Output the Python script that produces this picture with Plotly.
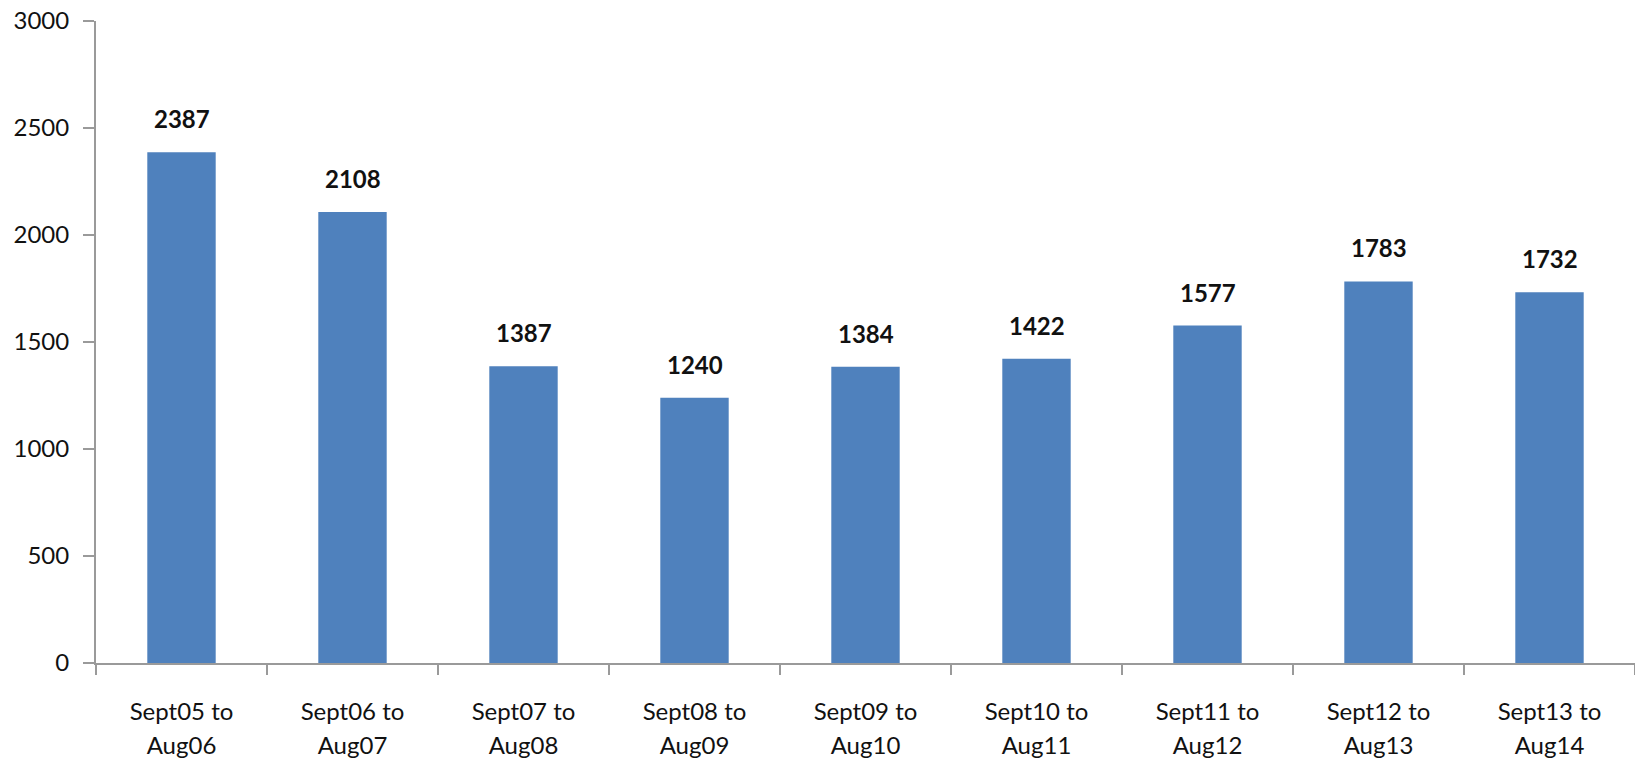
import plotly.graph_objects as go

label_line1 = ["Sept05 to", "Sept06 to", "Sept07 to", "Sept08 to", "Sept09 to",
               "Sept10 to", "Sept11 to", "Sept12 to", "Sept13 to"]
label_line2 = ["Aug06", "Aug07", "Aug08", "Aug09", "Aug10",
               "Aug11", "Aug12", "Aug13", "Aug14"]
values = [2387, 2108, 1387, 1240, 1384, 1422, 1577, 1783, 1732]
y_ticks = [0, 500, 1000, 1500, 2000, 2500, 3000]

FONT = "Lato"
AXIS = "#9a9a9a"
TXT = "#111"

idx = list(range(len(values)))

fig = go.Figure()
fig.add_trace(go.Bar(
    x=idx, y=values,
    marker=dict(color="#4F81BD", line=dict(width=0)),
    hovertext=[f"{a} {b}" for a, b in zip(label_line1, label_line2)],
    hoverinfo="text+y",
))

for i, v in zip(idx, values):
    fig.add_annotation(
        x=i, y=v, text=f"<b>{v}</b>", showarrow=False,
        yanchor="bottom", yshift=17,
        font=dict(family=FONT, size=24, color=TXT),
    )

xr = [-0.5, len(values) - 0.5]
fig.update_layout(
    width=1635, height=762,
    margin=dict(l=96, r=0, t=21, b=99),
    paper_bgcolor="white", plot_bgcolor="white",
    bargap=0.6,
    showlegend=False,
    font=dict(family=FONT, size=24, color=TXT),
    xaxis=dict(
        range=xr, tickmode="array", tickvals=idx, ticktext=label_line1,
        showline=True, linecolor=AXIS, linewidth=2,
        ticks="", showgrid=False, zeroline=False,
        ticklabelstandoff=26, automargin=False,
        tickfont=dict(family=FONT, size=24, color=TXT),
    ),
    xaxis2=dict(
        overlaying="x", anchor="y", side="bottom",
        range=xr, tickmode="array", tickvals=idx, ticktext=label_line2,
        showline=False, ticks="", showgrid=False, zeroline=False,
        ticklabelstandoff=66, automargin=False,
        tickfont=dict(family=FONT, size=24, color=TXT),
    ),
    xaxis3=dict(
        overlaying="x", anchor="y", side="bottom",
        range=xr, tickmode="array",
        tickvals=[i - 0.5 for i in idx] + [len(values) - 0.5],
        ticktext=[""] * (len(values) + 1),
        showline=False, ticks="outside", ticklen=11, tickcolor=AXIS, tickwidth=2,
        showgrid=False, zeroline=False, automargin=False,
    ),
    yaxis=dict(
        range=[0, 3000], tickvals=y_ticks,
        showline=True, linecolor=AXIS, linewidth=2,
        ticks="outside", ticklen=11, tickcolor=AXIS, tickwidth=2,
        showgrid=False, zeroline=False, automargin=False,
        ticklabelstandoff=9,
        tickfont=dict(family=FONT, size=24, color=TXT),
    ),
)
# invisible helper traces so the overlay axes render
fig.add_trace(go.Scatter(x=[xr[0]], y=[0], xaxis="x2", mode="markers",
                         marker=dict(opacity=0), hoverinfo="skip", showlegend=False))
fig.add_trace(go.Scatter(x=[xr[0]], y=[0], xaxis="x3", mode="markers",
                         marker=dict(opacity=0), hoverinfo="skip", showlegend=False))

fig.write_html("out.html", config={"displayModeBar": False},
               post_script="document.body.style.margin='0';")
